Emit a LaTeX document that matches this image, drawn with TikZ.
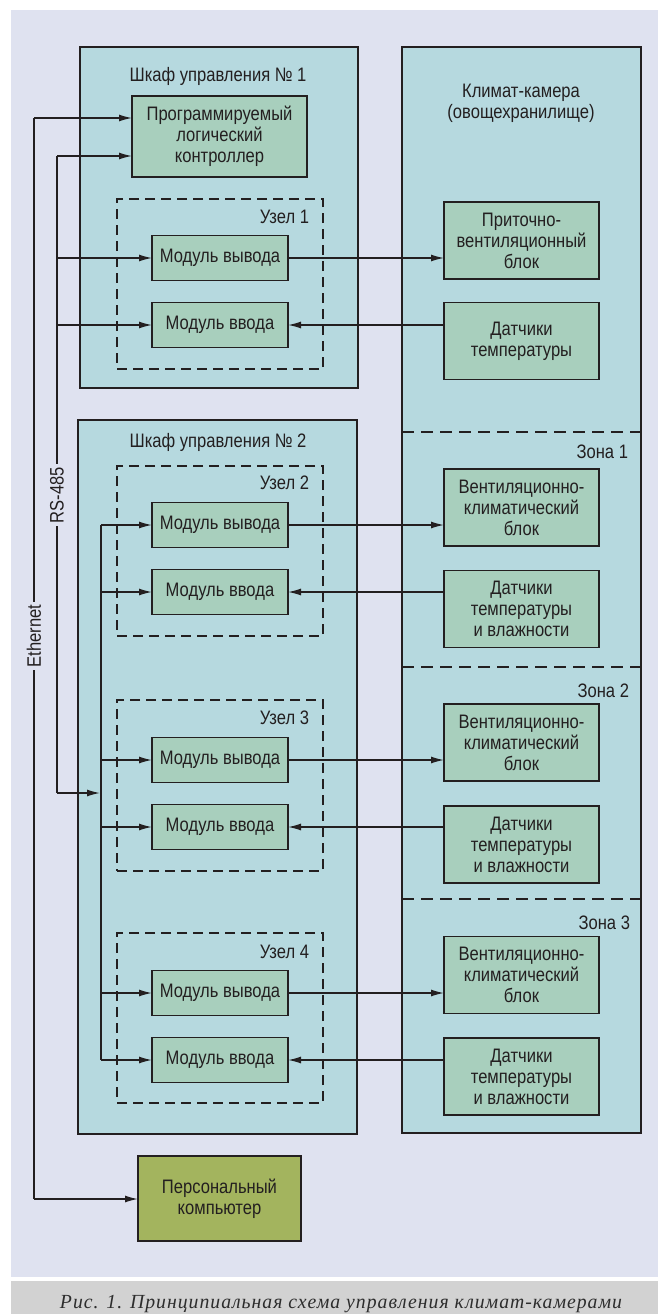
\documentclass[tikz,border=0pt]{standalone}
\usepackage{fontspec}
\setmainfont{Liberation Sans}[FakeStretch=0.85]
\newfontfamily\capfont{Liberation Serif}[LetterSpace=5]
\usepackage{graphicx}
\usetikzlibrary{arrows.meta}
\definecolor{lav}{RGB}{223,226,240}
\definecolor{cabfill}{RGB}{182,217,223}
\definecolor{modfill}{RGB}{168,207,189}
\definecolor{pcfill}{RGB}{163,180,94}
\definecolor{capfill}{RGB}{210,210,210}
\definecolor{ink}{RGB}{35,31,32}
\begin{document}
\begin{tikzpicture}[x=1pt,y=-1pt,
  every node/.style={inner sep=0pt, outer sep=0pt, text=ink, font=\fontsize{19.5}{21}\selectfont},
  cabinet/.style={draw=ink, line width=2pt, fill=cabfill},
  nodebox/.style={draw=ink, line width=1.4pt, dash pattern=on 10pt off 6pt},
  zonesep/.style={draw=ink, line width=1.4pt, dash pattern=on 12pt off 7pt},
  module/.style={draw=ink, line width=1.3pt, fill=modfill, align=center, minimum width=136pt, minimum height=45pt},
  device/.style={draw=ink, line width=1.3pt, fill=modfill, align=center, minimum width=155pt, minimum height=77pt},
  conn/.style={draw=ink, line width=1.4pt},
  arr/.style={conn, -{Latex[length=13pt,width=7pt]}},
  buslabel/.style={fill=lav, inner xsep=3pt, inner ysep=1pt, rotate=90},
]
\useasboundingbox (0,0) rectangle (658,1314);
\fill[white] (0,0) rectangle (658,1314);
\fill[lav] (11,10) rectangle (658,1277);
\fill[capfill] (11,1281) rectangle (658,1314);

% cabinets and climate chamber
\node[cabinet, minimum width=278pt, minimum height=341pt] (cab1) at (219,217.5) {};
\node[cabinet, minimum width=279pt, minimum height=714pt] (cab2) at (217.5,777) {};
\node[cabinet, minimum width=239pt, minimum height=1086pt] (clim) at (521.5,590) {};

\node (cab1t) at (218,76) {Шкаф управления № 1};
\node (cab2t) at (218,442) {Шкаф управления № 2};
\node[align=center] (climt) at (521,103) {Климат-камера\\(овощехранилище)};

% zone separators
\draw[zonesep] (clim.west |- 0,432) -- (clim.east |- 0,432);
\draw[zonesep] (clim.west |- 0,667) -- (clim.east |- 0,667);
\draw[zonesep] (clim.west |- 0,899) -- (clim.east |- 0,899);
\node[anchor=east] (z1) at (628,452) {Зона 1};
\node[anchor=east] (z2) at (629,691) {Зона 2};
\node[anchor=east] (z3) at (630,923) {Зона 3};

% PLC
\node[module, minimum width=175pt, minimum height=81pt] (plc) at (219.5,136.5) {Программируемый\\логический\\контроллер};

% dashed node boxes
\node[nodebox, minimum width=206pt, minimum height=170pt] (u1) at (220,284) {};
\node[nodebox, minimum width=206pt, minimum height=170pt] (u2) at (220,551) {};
\node[nodebox, minimum width=206pt, minimum height=171pt] (u3) at (220,785.5) {};
\node[nodebox, minimum width=206pt, minimum height=170pt] (u4) at (220,1018) {};
\node[anchor=east] (u1l) at (309,217) {Узел 1};
\node[anchor=east] (u2l) at (309,483) {Узел 2};
\node[anchor=east] (u3l) at (309,718) {Узел 3};
\node[anchor=east] (u4l) at (309,952) {Узел 4};

% modules
\node[module] (mo1) at (220,258) {Модуль вывода};
\node[module] (mi1) at (220,325) {Модуль ввода};
\node[module] (mo2) at (220,525) {Модуль вывода};
\node[module] (mi2) at (220,592) {Модуль ввода};
\node[module] (mo3) at (220,760) {Модуль вывода};
\node[module] (mi3) at (220,827) {Модуль ввода};
\node[module] (mo4) at (220,993) {Модуль вывода};
\node[module] (mi4) at (220,1060) {Модуль ввода};

% devices in climate chamber
\node[device] (pvb) at (521.5,240.5) {Приточно-\\вентиляционный\\блок};
\node[device] (dt0) at (521.5,341) {Датчики\\температуры};
\node[device] (vk1) at (521.5,507.5) {Вентиляционно-\\климатический\\блок};
\node[device] (dt1) at (521.5,609) {Датчики\\температуры\\и влажности};
\node[device] (vk2) at (521.5,742.5) {Вентиляционно-\\климатический\\блок};
\node[device] (dt2) at (521.5,844.5) {Датчики\\температуры\\и влажности};
\node[device] (vk3) at (521.5,975) {Вентиляционно-\\климатический\\блок};
\node[device] (dt3) at (521.5,1076.5) {Датчики\\температуры\\и влажности};

% PC
\node[draw=ink, line width=1.3pt, fill=pcfill, align=center, minimum width=163pt, minimum height=85pt] (pc) at (219.5,1198.5) {Персональный\\компьютер};

% outputs / inputs
\draw[arr] (mo1.east) -- (mo1.east -| pvb.west);
\draw[arr] (mi1.east -| dt0.west) -- (mi1.east);
\draw[arr] (mo2.east) -- (mo2.east -| vk1.west);
\draw[arr] (mi2.east -| dt1.west) -- (mi2.east);
\draw[arr] (mo3.east) -- (mo3.east -| vk2.west);
\draw[arr] (mi3.east -| dt2.west) -- (mi3.east);
\draw[arr] (mo4.east) -- (mo4.east -| vk3.west);
\draw[arr] (mi4.east -| dt3.west) -- (mi4.east);

% Ethernet
\coordinate (e1) at (34,118);
\coordinate (e2) at (34,1199);
\draw[conn] (e1) -- (e2);
\draw[arr] (e1) -- (e1 -| plc.west);
\draw[arr] (e2) -- (e2 -| pc.west);

% RS-485
\coordinate (r1) at (57,156);
\coordinate (r2) at (57,793);
\coordinate (b1) at (101,525);
\coordinate (b2) at (101,1060);
\draw[conn] (r1) -- (r2);
\draw[arr] (r1) -- (r1 -| plc.west);
\draw[arr] (r1 |- mo1.west) -- (mo1.west);
\draw[arr] (r1 |- mi1.west) -- (mi1.west);
\draw[arr, shorten >=1pt] (r2) -- (r2 -| b1);
\draw[conn] (b1) -- (b2);
\draw[arr] (b1) -- (mo2.west);
\draw[arr] (b1 |- mi2.west) -- (mi2.west);
\draw[arr] (b1 |- mo3.west) -- (mo3.west);
\draw[arr] (b1 |- mi3.west) -- (mi3.west);
\draw[arr] (b1 |- mo4.west) -- (mo4.west);
\draw[arr] (b2) -- (mi4.west);

\node[buslabel] (rsl) at (57,495) {RS-485};
\node[buslabel] (ethl) at (34,636) {Ethernet};

% caption
\node[anchor=base, text={rgb,255:red,45;green,45;blue,45}] (cap) at (341,1308)
  {\resizebox{562pt}{\height}{\capfont\itshape\fontsize{20}{22}\selectfont Рис. 1. Принципиальная схема управления климат-камерами}};
\end{tikzpicture}
\end{document}
